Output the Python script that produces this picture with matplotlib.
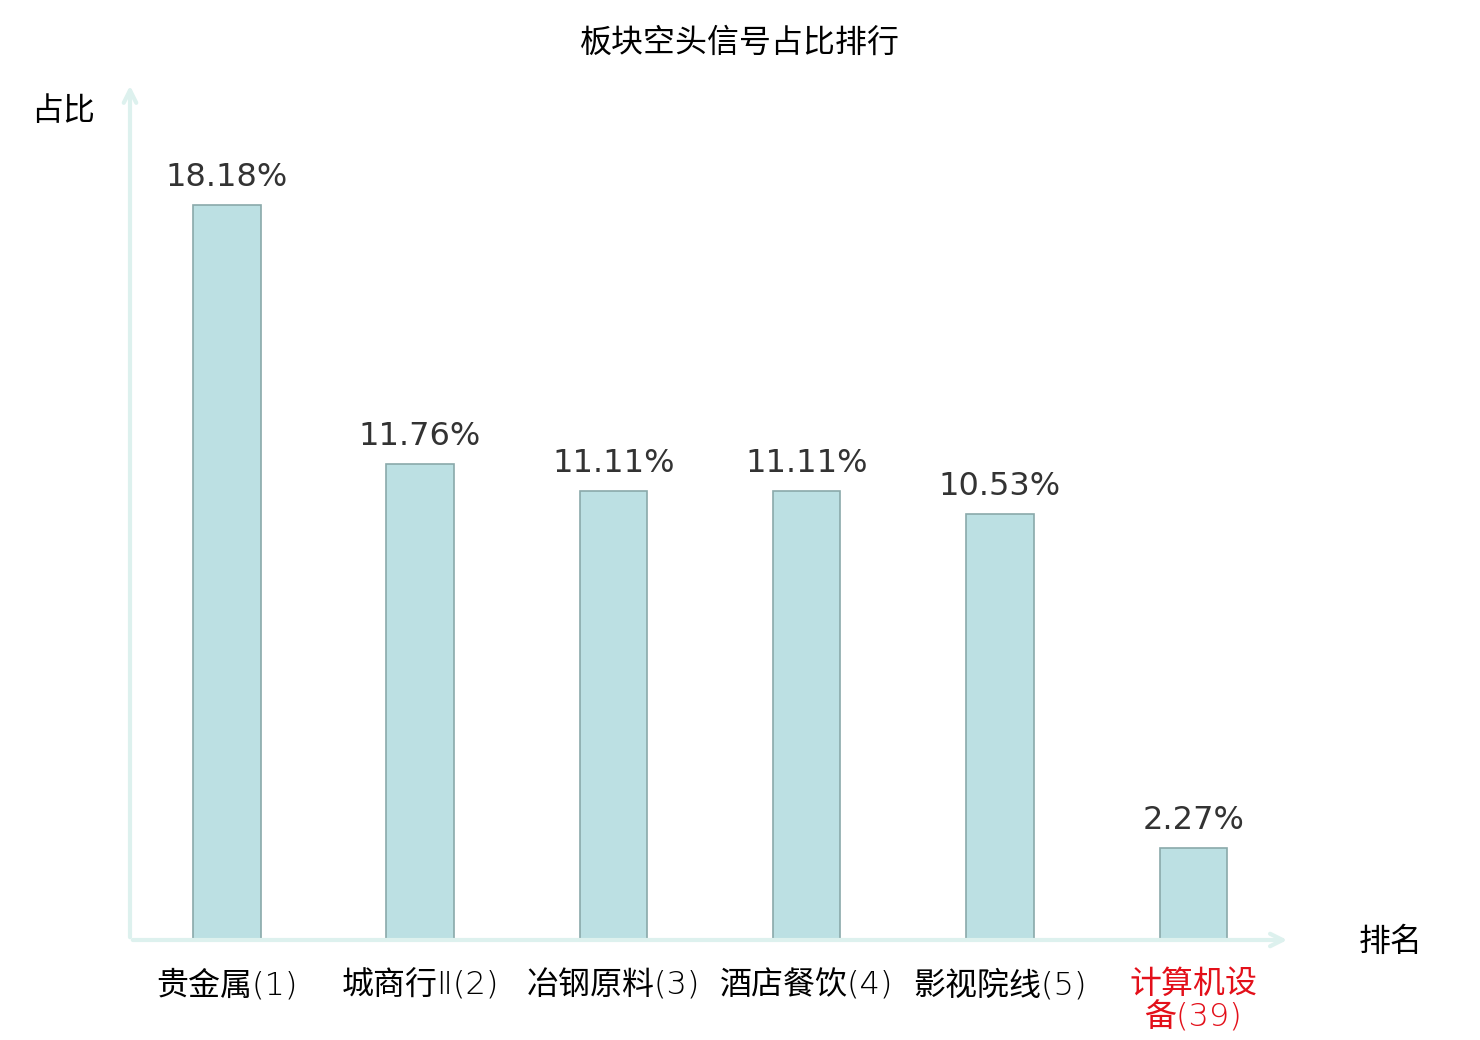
import numpy as np
import matplotlib
matplotlib.use('Agg')
import matplotlib.pyplot as plt

plt.rcParams['font.family'] = ['Noto Sans CJK SC', 'DejaVu Sans']

# data
sectors = ['贵金属(1)', '城商行Ⅱ(2)', '冶钢原料(3)', '酒店餐饮(4)', '影视院线(5)', '计算机设\n备(39)']
shares = [18.18, 11.76, 11.11, 11.11, 10.53, 2.27]
label_colors = ['black', 'black', 'black', 'black', 'black', '#e3101a']

fig = plt.figure(figsize=(14.8, 10.4), dpi=100)
ax = fig.add_axes([130 / 1480, 100 / 1040, 1160 / 1480, 852 / 1040])

x = np.arange(len(sectors))
ax.bar(x, shares, width=0.35, color='#bce0e3', edgecolor='#8aa9aa', linewidth=1.2, zorder=3)

for xi, v in zip(x, shares):
    ax.text(xi, v + 0.3, '%.2f%%' % v, ha='center', va='bottom',
            fontsize=23, color='#333333', family='DejaVu Sans')

ax.set_xlim(-0.5, 5.5)
ax.set_ylim(0, 21.07)
ax.set_yticks([])
ax.set_xticks(x)
ax.set_xticklabels(sectors, fontsize=23, linespacing=1.08,
                   family=['DejaVu Sans', 'Noto Sans CJK SC'])
for lab, c in zip(ax.get_xticklabels(), label_colors):
    lab.set_color(c)
    lab.set_fontweight('light')
ax.tick_params(axis='x', length=0, pad=21)
for s in ax.spines.values():
    s.set_visible(False)

# axis arrows
axis_color = '#ddf1ee'
ax.annotate('', xy=(0, 1.006), xytext=(0, 0), xycoords='axes fraction',
            arrowprops=dict(arrowstyle='->,head_length=0.9,head_width=0.45', color=axis_color, lw=3))
ax.annotate('', xy=(1, 0), xytext=(0, 0), xycoords='axes fraction',
            arrowprops=dict(arrowstyle='->,head_length=0.9,head_width=0.45', color=axis_color, lw=3))

fig.text(740 / 1480, 1 - 43 / 1040, '板块空头信号占比排行', ha='center', va='center', fontsize=23)
fig.text(63 / 1480, 1 - 111 / 1040, '占比', ha='center', va='center', fontsize=23)
fig.text(1391 / 1480, 1 - 942 / 1040, '排名', ha='center', va='center', fontsize=23)

fig.savefig('out.png', dpi=100)
